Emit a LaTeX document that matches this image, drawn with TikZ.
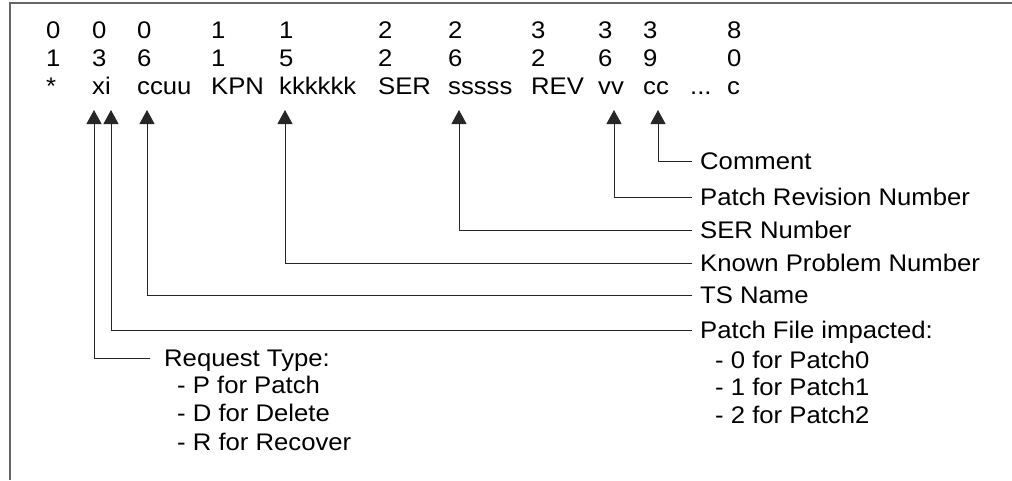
\documentclass[tikz,border=0pt]{standalone}
\usepackage{fontspec}
\setmainfont{Liberation Sans}[FakeStretch=1.07]
\usetikzlibrary{arrows.meta}
\begin{document}
\begin{tikzpicture}[x=1pt,y=-1pt,
  txt/.style={inner sep=0pt,font=\fontsize{24}{28}\selectfont},
  lbl/.style={txt,anchor=west,text height=17pt,text depth=0pt},
  conn/.style={line width=1pt,draw=black!85},
  arr/.style={conn,-{Triangle[width=15pt,length=14pt]}},
  frame/.style={line width=1.5pt,draw=black!60}]
\useasboundingbox (0,0) rectangle (1012,480);
\draw[frame] (10,480) -- (10,3) -- (1012,3);
% record layout columns
\foreach \x/\a/\b/\c/\n in {46/0/1/*/ca,92/0/3/xi/cb,137/0/6/ccuu/cc,211/1/1/KPN/cd,279/1/5/kkkkkk/ce,
  378/2/2/SER/cf,448/2/6/sssss/cg,531/3/2/REV/ch,598/3/6/vv/ci,643/3/9/cc/cj,727/8/0/c/ck}{
  \node[txt,anchor=base west] (\n1) at (\x,38) {\a};
  \node[txt,anchor=base west] (\n2) at (\x,66) {\b};
  \node[txt,anchor=base west] (\n3) at (\x,94) {\c};
}
\node[txt,anchor=base west] (dots) at (690,94) {...};
% arrow tips
\coordinate (t1) at (94,110);
\coordinate (t2) at (111,110);
\coordinate (t3) at (147,110);
\coordinate (t4) at (285,110);
\coordinate (t5) at (459,110);
\coordinate (t6) at (614,110);
\coordinate (t7) at (658,110);
% labels
\node[lbl] (com) at (700,161) {Comment};
\node[lbl] (prn) at (700,197) {Patch Revision Number};
\node[lbl] (ser) at (700,230) {SER Number};
\node[lbl] (kpn) at (700,263) {Known Problem Number};
\node[lbl] (ts) at (700,295) {TS Name};
\node[lbl] (pf) at (700,330) {Patch File impacted:};
\node[txt,anchor=base west] (pf0) at (715,368) {- 0 for Patch0};
\node[txt,anchor=base west] (pf1) at (715,395) {- 1 for Patch1};
\node[txt,anchor=base west] (pf2) at (715,423) {- 2 for Patch2};
\node[lbl] (req) at (164,358) {Request Type:};
\node[txt,anchor=base west] (reqp) at (177,393) {- P for Patch};
\node[txt,anchor=base west] (reqd) at (177,421) {- D for Delete};
\node[txt,anchor=base west] (reqr) at (177,450) {- R for Recover};
% connectors
\draw[arr] ([xshift=-8pt]com.west) -| (t7);
\draw[arr] ([xshift=-8pt]prn.west) -| (t6);
\draw[arr] ([xshift=-8pt]ser.west) -| (t5);
\draw[arr] ([xshift=-8pt]kpn.west) -| (t4);
\draw[arr] ([xshift=-8pt]ts.west) -| (t3);
\draw[arr] ([xshift=-8pt]pf.west) -| (t2);
\draw[arr] ([xshift=-14pt]req.west) -| (t1);
\end{tikzpicture}
\end{document}
